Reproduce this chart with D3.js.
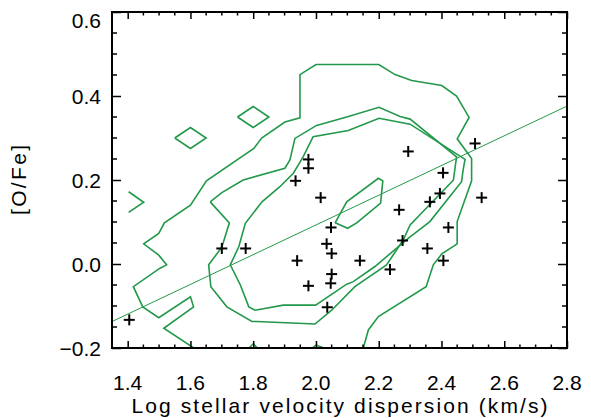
<!DOCTYPE html>
<html>
<head>
<meta charset="utf-8">
<script src="https://cdn.jsdelivr.net/npm/d3@7"></script>
<style>
  body { margin: 0; background: #fff; }
  text { font-family: "Liberation Sans", Arial, sans-serif; fill: #000; }
</style>
</head>
<body>
<svg id="chart" width="591" height="418"></svg>
<script>
// Axis ranges and tick labels
const xDomain = [1.35, 2.8];
const yDomain = [-0.2, 0.6];
const xTickValues = [1.4, 1.6, 1.8, 2.0, 2.2, 2.4, 2.6, 2.8];
const xTickLabels = ["1.4", "1.6", "1.8", "2.0", "2.2", "2.4", "2.6", "2.8"];
const yTickValues = [-0.2, 0.0, 0.2, 0.4, 0.6];
const yTickLabels = ["\u22120.2", "0.0", "0.2", "0.4", "0.6"];
const xTitle = "Log stellar velocity dispersion (km/s)";
const yTitle = "[O/Fe]";

// Individual galaxies: log sigma and [O/Fe]
const logSigma = [1.405, 1.700, 1.776, 1.935, 1.976, 1.976, 2.015, 2.048, 2.034, 2.050,
                  1.940, 2.050, 2.047, 1.976, 2.036, 2.140, 2.236, 2.265, 2.276, 2.294,
                  2.355, 2.363, 2.395, 2.405, 2.406, 2.422, 2.507, 2.528];
const oFe      = [-0.133, 0.037, 0.037, 0.198, 0.249, 0.228, 0.158, 0.087, 0.048, 0.025,
                  0.008, -0.024, -0.046, -0.052, -0.103, 0.008, -0.013, 0.129, 0.056, 0.268,
                  0.037, 0.148, 0.168, 0.217, 0.008, 0.087, 0.287, 0.158];

// Density contours of the comparison sample, [log sigma, O/Fe] vertices
const contourOuter = [
  [1.621, -0.205], [1.515, -0.153], [1.610, -0.102], [1.600, -0.078], [1.499, -0.128],
  [1.448, -0.102], [1.418, -0.054], [1.503, -0.010], [1.524, -0.002], [1.499, 0.021],
  [1.451, 0.048], [1.499, 0.073], [1.517, 0.098], [1.600, 0.140], [1.651, 0.198],
  [1.802, 0.275], [1.827, 0.300], [1.901, 0.338], [1.949, 0.348], [1.949, 0.451],
  [2.000, 0.475], [2.200, 0.475], [2.252, 0.451], [2.305, 0.437], [2.401, 0.425],
  [2.448, 0.400], [2.488, 0.349], [2.450, 0.298], [2.496, 0.251], [2.496, 0.198],
  [2.450, 0.101], [2.450, 0.048], [2.401, 0.024], [2.374, -0.002], [2.351, -0.054],
  [2.199, -0.125], [2.167, -0.157], [2.149, -0.205]
];
const contourMiddle = [
  [1.663, 0.148], [1.700, 0.170], [1.768, 0.200], [1.901, 0.228], [1.917, 0.248],
  [1.933, 0.299], [2.002, 0.330], [2.098, 0.350], [2.201, 0.373], [2.268, 0.351],
  [2.300, 0.345], [2.448, 0.255], [2.438, 0.200], [2.433, 0.196], [2.300, 0.093],
  [2.278, 0.057], [2.225, -0.002], [2.124, -0.054], [2.050, -0.110], [1.997, -0.143],
  [1.811, -0.137], [1.796, -0.137], [1.716, -0.102], [1.665, -0.054], [1.658, -0.002],
  [1.700, 0.040], [1.724, 0.098], [1.663, 0.148]
];
const contourInner = [
  [1.959, 0.255], [1.991, 0.303], [2.103, 0.318], [2.201, 0.347], [2.300, 0.333],
  [2.475, 0.249], [2.469, 0.224], [2.464, 0.196], [2.363, 0.101], [2.294, 0.061],
  [2.188, -0.006], [2.119, -0.042], [2.098, -0.048], [1.999, -0.098], [1.896, -0.098],
  [1.806, -0.110], [1.786, -0.102], [1.759, -0.050], [1.727, -0.002], [1.754, 0.041],
  [1.775, 0.097], [1.828, 0.148], [1.885, 0.184], [1.928, 0.216], [1.959, 0.255]
];
const contourCore = [
  [2.061, 0.098], [2.098, 0.148], [2.199, 0.204], [2.213, 0.198], [2.206, 0.145],
  [2.130, 0.098], [2.101, 0.085], [2.061, 0.098]
];
const islandA = [[1.55, 0.300], [1.60, 0.325], [1.65, 0.300], [1.60, 0.275], [1.55, 0.300]];
const islandB = [[1.75, 0.350], [1.80, 0.375], [1.85, 0.350], [1.80, 0.325], [1.75, 0.350]];
const edgeLeft = [[1.403, 0.172], [1.451, 0.147], [1.403, 0.123]];
const edgeBottomA = [[1.78, -0.205], [1.80, -0.190], [1.82, -0.205]];
const edgeBottomB = [[1.98, -0.205], [2.00, -0.193], [2.045, -0.205]];

// Linear fit to the galaxies, endpoints at the axis limits
const fitLine = [[1.35, -0.137], [2.8, 0.376]];

const svg = d3.select("#chart");
const W = 591, H = 418;
const margin = { left: 112, right: 24, top: 12, bottom: 70 };
const x = d3.scaleLinear().domain(xDomain).range([margin.left, W - margin.right]);
const y = d3.scaleLinear().domain(yDomain).range([H - margin.bottom, margin.top]);
const green = "#22994a";

svg.append("clipPath").attr("id", "plotClip")
  .append("rect")
  .attr("x", x(xDomain[0])).attr("y", y(yDomain[1]))
  .attr("width", x(xDomain[1]) - x(xDomain[0]))
  .attr("height", y(yDomain[0]) - y(yDomain[1]));

const plot = svg.append("g").attr("clip-path", "url(#plotClip)");
const line = d3.line().x(d => x(d[0])).y(d => y(d[1]));

[contourOuter, contourMiddle, contourInner, contourCore, islandA, islandB,
 edgeLeft, edgeBottomA, edgeBottomB].forEach(c => {
  plot.append("path").attr("d", line(c))
    .attr("fill", "none").attr("stroke", green)
    .attr("stroke-width", 1.6).attr("stroke-linejoin", "miter");
});

plot.append("path").attr("d", line(fitLine))
  .attr("fill", "none").attr("stroke", green).attr("stroke-width", 1);

// Plus-sign markers
const arm = 5.5;
const pts = plot.append("g").attr("stroke", "#000").attr("stroke-width", 2);
logSigma.forEach((s, i) => {
  const cx = x(s), cy = y(oFe[i]);
  pts.append("line").attr("x1", cx - arm).attr("x2", cx + arm).attr("y1", cy).attr("y2", cy);
  pts.append("line").attr("x1", cx).attr("x2", cx).attr("y1", cy - arm).attr("y2", cy + arm);
});

// Axes with inward ticks on all four sides
const xMinor = d3.range(1.35, 2.8001, 0.05).filter(v => !xTickValues.some(t => Math.abs(t - v) < 1e-6));
const yMinor = d3.range(-0.2, 0.6001, 0.05).filter(v => !yTickValues.some(t => Math.abs(t - v) < 1e-6));

const xb = y(yDomain[0]), xt = y(yDomain[1]);
const yl = x(xDomain[0]), yr = x(xDomain[1]);

// dir = 1 for the bottom edge (ticks point up), -1 for the top edge
function axisX(pos, dir) {
  const g = svg.append("g");
  const ax = (dir > 0 ? d3.axisTop(x) : d3.axisBottom(x))
    .tickValues(xTickValues).tickSizeOuter(0).tickSize(7).tickFormat("");
  g.attr("transform", `translate(0,${pos})`).call(ax);
  g.select(".domain").remove();
  g.selectAll(".tick line").attr("stroke", "#000").attr("stroke-width", 1.5);
  g.selectAll(".tick text").remove();
  xMinor.forEach(v => g.append("line").attr("x1", x(v)).attr("x2", x(v))
    .attr("y1", 0).attr("y2", -dir * 3.5).attr("stroke", "#000").attr("stroke-width", 1.5));
}
axisX(xb, 1);
axisX(xt, -1);

// dir = 1 for the left edge (ticks point right), -1 for the right edge
function axisY(pos, dir) {
  const g = svg.append("g");
  const ax = (dir > 0 ? d3.axisRight(y) : d3.axisLeft(y))
    .tickValues(yTickValues).tickSizeOuter(0).tickSize(9).tickFormat("");
  g.attr("transform", `translate(${pos},0)`).call(ax);
  g.select(".domain").remove();
  g.selectAll(".tick line").attr("stroke", "#000").attr("stroke-width", 1.5);
  g.selectAll(".tick text").remove();
  yMinor.forEach(v => g.append("line").attr("y1", y(v)).attr("y2", y(v))
    .attr("x1", 0).attr("x2", dir * 5).attr("stroke", "#000").attr("stroke-width", 1.5));
}
axisY(yl, 1);
axisY(yr, -1);

// Frame
svg.append("rect")
  .attr("x", yl).attr("y", xt).attr("width", yr - yl).attr("height", xb - xt)
  .attr("fill", "none").attr("stroke", "#000").attr("stroke-width", 2);

// Tick labels
svg.append("g").selectAll("text").data(xTickValues).join("text")
  .attr("x", d => x(d)).attr("y", 390)
  .attr("text-anchor", "middle").attr("font-size", 21)
  .text((d, i) => xTickLabels[i]);

svg.append("g").selectAll("text").data(yTickValues).join("text")
  .attr("x", 101).attr("y", (d, i) => y(d) + 7.5 + (i === yTickValues.length - 1 ? 8 : 0))
  .attr("text-anchor", "end").attr("font-size", 21)
  .text((d, i) => yTickLabels[i]);

// Axis titles
svg.append("text").attr("x", (yl + yr) / 2).attr("y", 413)
  .attr("text-anchor", "middle").attr("font-size", 21)
  .attr("textLength", 416).attr("lengthAdjust", "spacing").text(xTitle);
svg.append("text")
  .attr("transform", `translate(26,${(xt + xb) / 2}) rotate(-90)`)
  .attr("text-anchor", "middle").attr("font-size", 21)
  .attr("textLength", 70).attr("lengthAdjust", "spacing").text(yTitle);
</script>
</body>
</html>
